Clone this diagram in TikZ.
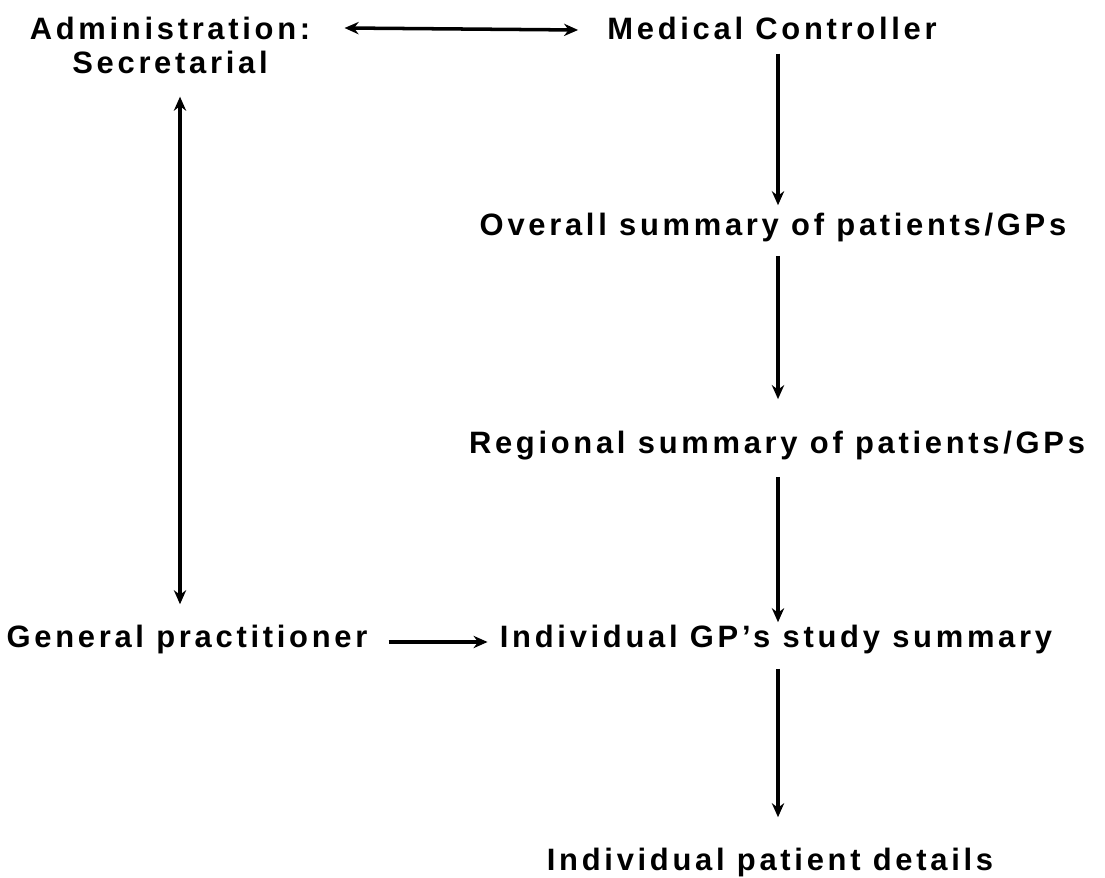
\documentclass[tikz,border=0pt]{standalone}
\usepackage{fontspec}
\setmainfont{Liberation Sans}[LetterSpace=12]
\usetikzlibrary{arrows.meta}
\tikzset{lbl/.style={font=\bfseries\fontsize{17.6}{19.3}\selectfont, inner sep=0pt, align=center},
  arr/.style={line width=2pt, -{Stealth[length=8pt,width=7pt]}},
  darr/.style={line width=2pt, {Stealth[length=8pt,width=7pt]}-{Stealth[length=8pt,width=7pt]}}}

\begin{document}
\begin{tikzpicture}[x=0.02cm,y=-0.02cm]
          \useasboundingbox (0,0) rectangle (1105,878);
          \node[lbl] (adm) at (170,45) {Administration:\\Secretarial};
          \node[lbl] (med) at (772,28) {Medical Controller};
          \node[lbl] (over) at (773,228) {Overall summary of patients/GPs};
          \node[lbl] (reg) at (777,446) {Regional summary of patients/GPs};
          \node[lbl] (gp) at (187,640) {General practitioner};
          \node[lbl] (ind) at (776,640) {Individual GP's study summary};
          \node[lbl] (pat) at (770,862) {Individual patient details};
          \draw[darr] ([shift={(34,0)}]adm.east |- med.west) -- ([shift={(-29,2)}]med.west);
          \draw[darr] ([shift={(10,23)}]adm.south) -- ([shift={(-7,-21)}]gp.north);
          \draw[arr] ([shift={(6,14)}]med.south) -- ([shift={(5,-8)}]over.north);
          \draw[arr] ([shift={(5,13)}]over.south) -- ([shift={(1,-32)}]reg.north);
          \draw[arr] ([shift={(1,16)}]reg.south) -- ([shift={(2,-3)}]ind.north);
          \draw[arr] ([shift={(21,2)}]gp.east) -- ([shift={(-12,2)}]ind.west);
          \draw[arr] ([shift={(2,14)}]ind.south) -- ([shift={(8,-30)}]pat.north);
        \end{tikzpicture}
\end{document}
